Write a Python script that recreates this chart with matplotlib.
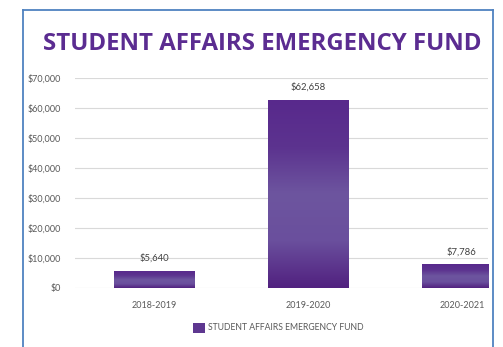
import matplotlib
matplotlib.use("Agg")
import matplotlib.pyplot as plt
import numpy as np
from matplotlib.lines import Line2D
from matplotlib.colors import LinearSegmentedColormap
from matplotlib.patches import Rectangle

categories = ["2018-2019", "2019-2020", "2020-2021"]
values = [5640, 62658, 7786]
value_labels = ["$5,640", "$62,658", "$7,786"]
yticks = [0, 10000, 20000, 30000, 40000, 50000, 60000, 70000]
ytick_labels = ["$0", "$10,000", "$20,000", "$30,000", "$40,000", "$50,000", "$60,000", "$70,000"]
title = "STUDENT AFFAIRS EMERGENCY FUND"
series_name = "STUDENT AFFAIRS EMERGENCY FUND"

W, H = 503, 347
fig = plt.figure(figsize=(W / 100, H / 100), dpi=100)
fig.patch.set_facecolor("white")

ax = fig.add_axes([75 / W, 1 - 288 / H, (488 - 75) / W, (288 - 78) / H])
ax.set_facecolor("white")

XMIN, XMAX = -0.513, 2.17
x = np.arange(len(categories))
bw = 0.52
bars = ax.bar(x, values, width=bw, color="none", edgecolor="none", zorder=3)

cmap = LinearSegmentedColormap.from_list(
    "pg", ["#51217f", "#6a4f9d", "#6d559f", "#5c338f", "#58298c"])
grad = np.linspace(0, 1, 256).reshape(-1, 1)
for b in bars:
    x0, y0 = b.get_x(), b.get_y()
    w, h = b.get_width(), b.get_height()
    x1 = min(x0 + w, XMAX)
    ax.imshow(grad, cmap=cmap, aspect="auto", origin="lower",
              extent=[x0, x1, y0, y0 + h], zorder=3)

ax.set_xlim(XMIN, XMAX)
ax.set_ylim(0, 70000)
ax.set_yticks(yticks)
ax.set_yticklabels(ytick_labels)
ax.set_xticks(x)
ax.set_xticklabels(categories)
ax.tick_params(axis="both", length=0, colors="#595959", labelsize=6.5)
ax.tick_params(axis="y", pad=10)
ax.tick_params(axis="x", pad=9)
for lab in ax.get_xticklabels() + ax.get_yticklabels():
    lab.set_fontfamily("Lato")
ax.yaxis.grid(True, color="#d9d9d9", linewidth=0.8, zorder=0)
ax.set_axisbelow(True)
for s in ax.spines.values():
    s.set_visible(False)

for xi, v, lab in zip(x, values, value_labels):
    ax.annotate(lab, (xi, v), xytext=(0, 6), textcoords="offset points",
                ha="center", va="bottom", fontsize=6.8, color="#404040",
                family="Lato")

fig.text(262 / W, 1 - 44 / H, title, ha="center", va="center",
         fontsize=17.3, fontweight="bold", color="#5b2c91", family="Open Sans")

# legend
fig.patches.append(Rectangle((193 / W, 1 - 333 / H), 12 / W, 10 / H,
                             transform=fig.transFigure, facecolor="#5e3790",
                             edgecolor="none"))
fig.text(208 / W, 1 - 328 / H, series_name, ha="left", va="center",
         fontsize=6.2, color="#595959", family="Lato")

# frame
bc = "#4f82c0"
fig.add_artist(Line2D([23 / W, 23 / W], [0, 1 - 10 / H], transform=fig.transFigure, color=bc, lw=1.3))
fig.add_artist(Line2D([23 / W, 493 / W], [1 - 10 / H, 1 - 10 / H], transform=fig.transFigure, color=bc, lw=1.3))
fig.add_artist(Line2D([492.5 / W, 492.5 / W], [0, 1 - 10 / H], transform=fig.transFigure, color=bc, lw=1.3))

fig.savefig("out.png", dpi=100, facecolor="white")
